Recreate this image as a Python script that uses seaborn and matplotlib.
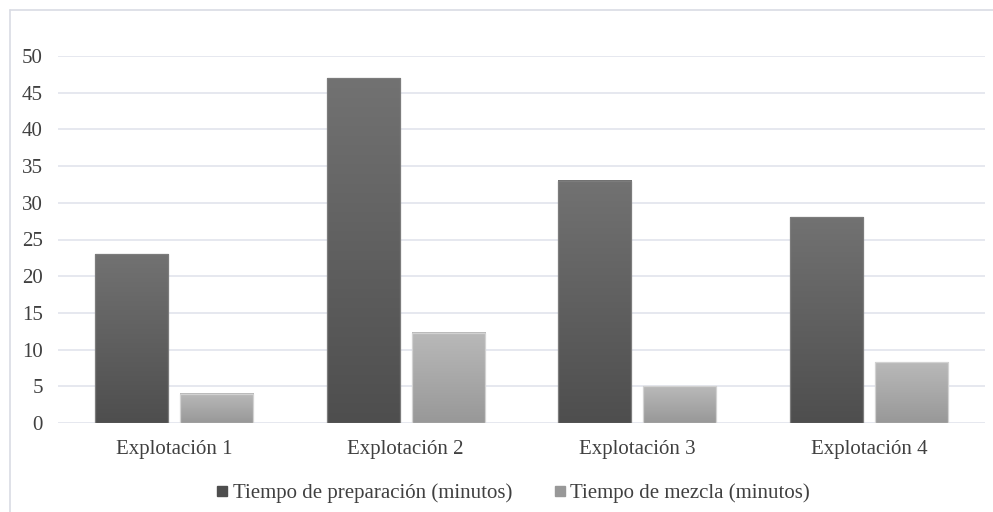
import numpy as np
import pandas as pd
import matplotlib
matplotlib.use('Agg')
import matplotlib.pyplot as plt
from matplotlib.colors import LinearSegmentedColormap
from matplotlib.lines import Line2D
import seaborn as sns

# datos
categorias = ['Explotación 1', 'Explotación 2', 'Explotación 3', 'Explotación 4']
series = ['Tiempo de preparación (minutos)', 'Tiempo de mezcla (minutos)']
preparacion = [23, 47, 33, 28]
mezcla = [4, 12.3, 5, 8.3]
yticks = [0, 5, 10, 15, 20, 25, 30, 35, 40, 45, 50]

TXT = '#404040'
GRID = '#e1e4ec'
# (arriba, abajo) del degradado de cada serie
GRAD = {series[0]: ('#727272', '#4e4e4e'), series[1]: ('#b9b9b9', '#989898')}
EDGE = {series[0]: '#7c7c7c', series[1]: '#d2d2d2'}

df = pd.DataFrame({
    'cat': categorias * 2,
    'serie': [series[0]] * 4 + [series[1]] * 4,
    'valor': preparacion + mezcla,
})

sns.set_theme(style='white')
plt.rcParams['font.family'] = ['Liberation Serif', 'DejaVu Serif']

fig = plt.figure(figsize=(9.93, 5.12), dpi=100)
ax = fig.add_axes([58 / 993, 89 / 512, 927 / 993, 367 / 512])

sns.barplot(data=df, x='cat', y='valor', hue='serie', hue_order=series,
            order=categorias, width=0.734, gap=0.141, ax=ax,
            palette=['#555555', '#a6a6a6'], legend=False, errorbar=None)

ax.set_ylim(0, 50)
ax.set_yticks(yticks)
ax.grid(axis='y', color=GRID, linewidth=1.2)
ax.set_axisbelow(True)
for s in ax.spines.values():
    s.set_visible(False)
ax.set_xlabel('')
ax.set_ylabel('')
ax.tick_params(axis='y', length=0, pad=11, labelsize=15, labelcolor=TXT)
ax.tick_params(axis='x', length=0, pad=12, labelsize=15, labelcolor=TXT)

# degradado vertical en cada barra
bars = [p for p in ax.patches if p.get_height() > 0]
n = len(categorias)
for i, p in enumerate(bars):
    serie = series[i // n]
    top, bot = GRAD[serie]
    cmap = LinearSegmentedColormap.from_list('g', [bot, top])
    x0, y0 = p.get_x(), p.get_y()
    w, h = p.get_width(), p.get_height()
    grad = np.linspace(0, 1, 256).reshape(-1, 1)
    ax.imshow(grad, cmap=cmap, origin='lower', aspect='auto',
              extent=(x0, x0 + w, y0, y0 + h), zorder=2)
    p.set_facecolor('none')
    p.set_edgecolor(EDGE[serie])
    p.set_linewidth(0.9)
    p.set_zorder(3)
ax.set_xlim(-0.5, n - 0.5)
ax.set_ylim(0, 50)

# leyenda
handles = [Line2D([], [], marker='s', linestyle='none', markersize=7,
                  markerfacecolor=GRAD[s][1], markeredgecolor=GRAD[s][1])
           for s in series]
fig.legend(handles, series, loc='center', bbox_to_anchor=(512 / 993, 1 - 493 / 512),
           ncol=2, frameon=False, fontsize=15, labelcolor=TXT,
           handletextpad=0.1, columnspacing=1.9, handlelength=0.8)

# marco del area del grafico (solo se ven arriba e izquierda)
fig.add_artist(Line2D([10 / 993, 1], [1 - 10 / 512, 1 - 10 / 512],
                      color='#d9dce4', linewidth=1.2))
fig.add_artist(Line2D([10 / 993, 10 / 993], [0, 1 - 10 / 512],
                      color='#d9dce4', linewidth=1.2))

fig.savefig('out.png', dpi=100)
